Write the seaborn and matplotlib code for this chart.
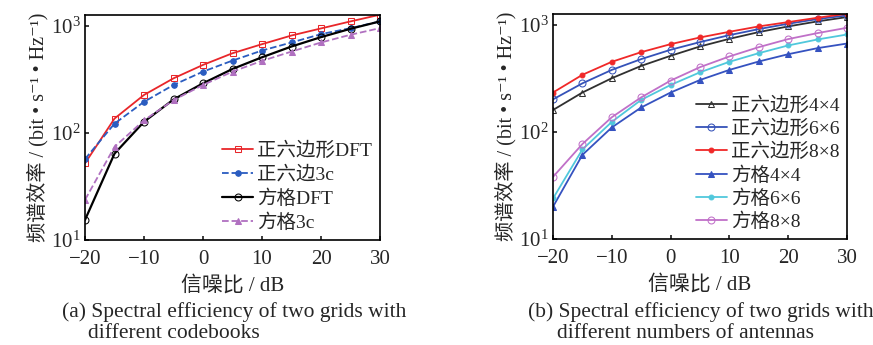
import numpy as np
import pandas as pd
import matplotlib
matplotlib.use('Agg')
import matplotlib.pyplot as plt
import seaborn as sns

sns.set_theme(style='ticks')
plt.rcParams['font.family'] = ['Liberation Serif', 'Noto Sans CJK SC', 'DejaVu Sans']
plt.rcParams['mathtext.fontset'] = 'stix'
plt.rcParams['axes.unicode_minus'] = True

snr = [-20, -15, -10, -5, 0, 5, 10, 15, 20, 25, 30]

# (a) codebooks
hex_dft = [52, 136, 226, 323, 431, 554, 673, 811, 944, 1098, 1268]
hex_3c = [57, 122, 195, 280, 373, 473, 587, 698, 835, 950, 1098]
sq_dft = [15.4, 64, 127, 205, 290, 395, 508, 640, 783, 937, 1098]
sq_3c = [23.7, 74, 131, 202, 280, 373, 470, 574, 698, 824, 950]
labels_a = ['正六边形DFT', '正六边3c', '方格DFT', '方格3c']

# (b) antennas
hex_4 = [160, 233, 317, 413, 513, 627, 739, 854, 965, 1075, 1180]
hex_6 = [201, 284, 379, 478, 584, 689, 800, 911, 1022, 1130, 1223]
hex_8 = [233, 341, 451, 555, 659, 761, 860, 965, 1059, 1163, 1267]
sq_4 = [20, 61, 110, 169, 233, 305, 379, 454, 531, 605, 668]
sq_6 = [23.9, 68.5, 124, 199, 274, 360, 451, 543, 641, 729, 811]
sq_8 = [38, 77, 137, 210, 301, 402, 506, 618, 735, 836, 937]
labels_b = ['正六边形4×4', '正六边形6×6', '正六边形8×8', '方格4×4', '方格6×6', '方格8×8']

fig = plt.figure(figsize=(8.73, 3.45), dpi=100)
ax1 = fig.add_axes([85 / 873, 1 - 240 / 345, 295 / 873, 225 / 345])
ax2 = fig.add_axes([553 / 873, 1 - 239 / 345, 294 / 873, 225 / 345])

style_a = [
    dict(color='#e8262a', marker='s', ls='-', mfc='none', ms=5),
    dict(color='#2a5cc0', marker='o', ls='--', mfc='#2a5cc0', ms=4),
    dict(color='black', marker='o', ls='-', mfc='none', ms=5, lw=1.6),
    dict(color='#b070c0', marker='^', ls='--', mfc='#b070c0', ms=5),
]
for y, lab, st in zip([hex_dft, hex_3c, sq_dft, sq_3c], labels_a, style_a):
    df = pd.DataFrame({'snr': snr, 'se': y})
    sns.lineplot(data=df, x='snr', y='se', ax=ax1, label=lab,
                 color=st['color'], marker=st['marker'], linestyle=st['ls'],
                 markerfacecolor=st['mfc'], markeredgecolor=st['color'],
                 markersize=st['ms'], linewidth=st.get('lw', 1.3))

style_b = [
    dict(color='#303030', marker='^', mfc='none', ms=5),
    dict(color='#3552b8', marker='o', mfc='none', ms=5),
    dict(color='#f02828', marker='o', mfc='#f02828', ms=3.5),
    dict(color='#3552c0', marker='^', mfc='#3552c0', ms=5),
    dict(color='#50c8dc', marker='o', mfc='#50c8dc', ms=3.5),
    dict(color='#c070c8', marker='o', mfc='none', ms=5),
]
for y, lab, st in zip([hex_4, hex_6, hex_8, sq_4, sq_6, sq_8], labels_b, style_b):
    df = pd.DataFrame({'snr': snr, 'se': y})
    sns.lineplot(data=df, x='snr', y='se', ax=ax2, label=lab,
                 color=st['color'], marker=st['marker'], linestyle='-',
                 markerfacecolor=st['mfc'], markeredgecolor=st['color'],
                 markersize=st['ms'], linewidth=1.3)

ylab = '频谱效率 / (bit • s⁻¹ • Hz⁻¹)'
for ax in (ax1, ax2):
    ax.set_yscale('log')
    ax.set_xlim(-20, 30)
    ax.set_ylim(10, 1260)
    ax.set_xticks([-20, -10, 0, 10, 20, 30])
    ax.set_yticks([10, 100, 1000])
    ax.yaxis.set_minor_locator(matplotlib.ticker.NullLocator())
    ax.tick_params(direction='in', labelsize=15, length=3)
    ax.tick_params(axis='x', pad=7)
    ax.tick_params(axis='y', pad=3)
    ax.set_xlabel('信噪比 / dB', fontsize=15, labelpad=5)
    ax.set_ylabel(ylab, fontsize=14.5, labelpad=2)
    for sp in ax.spines.values():
        sp.set_linewidth(1.2)
        sp.set_color('black')

ax1.legend(loc='lower right', frameon=False, fontsize=14, handlelength=1.6,
           handletextpad=0.2, labelspacing=0.3, borderaxespad=0.1,
           borderpad=0.3)
ax2.legend(loc='lower right', frameon=False, fontsize=14, handlelength=1.6,
           handletextpad=0.2, labelspacing=0.25, borderaxespad=0.1,
           borderpad=0.3)

fig.text(62 / 873, 1 - 312 / 345, '(a) Spectral efficiency of two grids with',
         fontsize=15.5, ha='left', va='center')
fig.text(88 / 873, 1 - 334 / 345, 'different codebooks',
         fontsize=15.5, ha='left', va='center')
fig.text(528 / 873, 1 - 312 / 345, '(b) Spectral efficiency of two grids with',
         fontsize=15.5, ha='left', va='center')
fig.text(557 / 873, 1 - 334 / 345, 'different numbers of antennas',
         fontsize=15.5, ha='left', va='center')

fig.savefig('out.png', dpi=100)
